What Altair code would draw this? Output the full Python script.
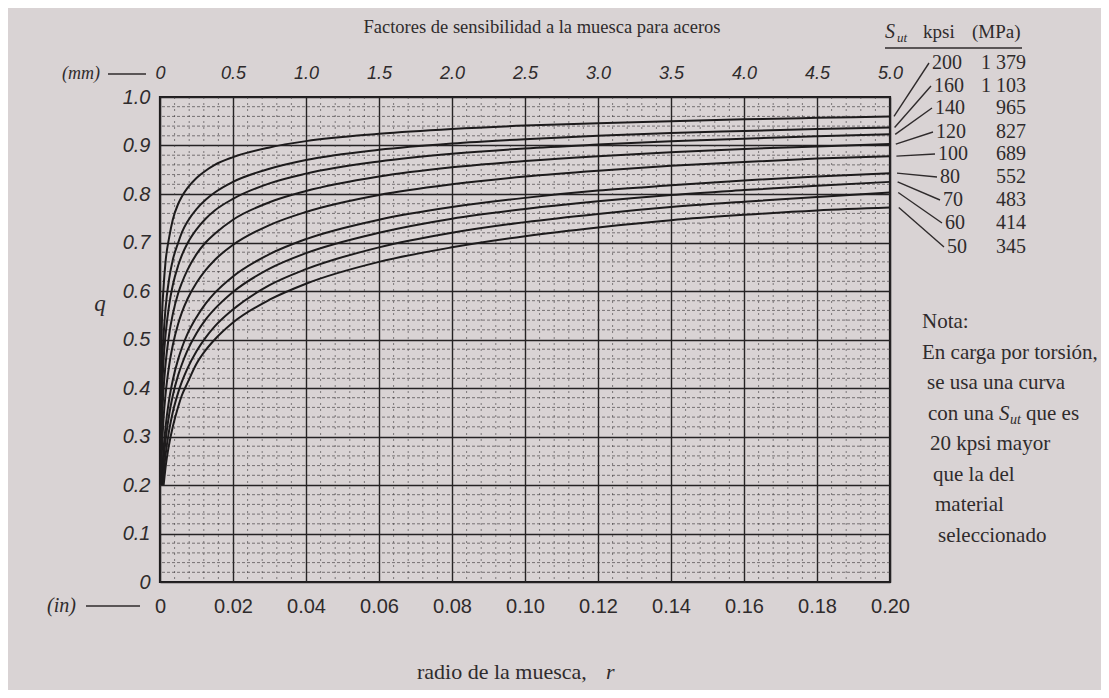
import altair as alt
import pandas as pd

# ---------------- data ----------------
sut_kpsi = [200, 160, 140, 120, 100, 80, 70, 60, 50]
sut_mpa = ["1 379", "1 103", "965", "827", "689", "552", "483", "414", "345"]

# notch radius (in) at which the curves were read
r_in = [0.0005, 0.001, 0.0015, 0.0025, 0.0035, 0.005, 0.006, 0.0075, 0.01, 0.0125,
        0.015, 0.02, 0.03, 0.04, 0.06, 0.08, 0.10, 0.12, 0.14, 0.16, 0.18, 0.20]
# first point of each curve (q = 0.20 near r = 0)
r_start = [0.00003, 0.00006, 0.00009, 0.00014, 0.00024, 0.00045, 0.0006, 0.0008, 0.0010]
q_start = 0.20

q_200 = [0.53, 0.61, 0.659, 0.71, 0.747, 0.78, 0.795, 0.812, 0.833, 0.848, 0.86, 0.876, 0.896, 0.909, 0.924, 0.934, 0.941, 0.946, 0.950, 0.954, 0.957, 0.960]
q_160 = [0.43, 0.51, 0.563, 0.625, 0.664, 0.70, 0.721, 0.743, 0.769, 0.788, 0.803, 0.825, 0.852, 0.870, 0.891, 0.904, 0.913, 0.920, 0.926, 0.930, 0.934, 0.937]
q_140 = [0.37, 0.46, 0.508, 0.571, 0.612, 0.653, 0.674, 0.698, 0.727, 0.749, 0.766, 0.79, 0.822, 0.842, 0.867, 0.883, 0.894, 0.902, 0.909, 0.914, 0.919, 0.923]
q_120 = [0.32, 0.40, 0.447, 0.51, 0.552, 0.596, 0.617, 0.643, 0.676, 0.70, 0.718, 0.747, 0.783, 0.806, 0.836, 0.855, 0.868, 0.878, 0.886, 0.893, 0.898, 0.903]
q_100 = [0.265, 0.34, 0.385, 0.446, 0.488, 0.533, 0.556, 0.583, 0.617, 0.643, 0.664, 0.695, 0.736, 0.763, 0.798, 0.820, 0.836, 0.848, 0.858, 0.866, 0.873, 0.878]
q_80 = [None, 0.276, 0.318, 0.376, 0.416, 0.46, 0.483, 0.511, 0.546, 0.574, 0.596, 0.63, 0.676, 0.707, 0.747, 0.773, 0.792, 0.807, 0.818, 0.828, 0.836, 0.843]
q_70 = [None, 0.25, 0.29, 0.345, 0.384, 0.427, 0.449, 0.477, 0.513, 0.541, 0.563, 0.598, 0.646, 0.678, 0.72, 0.749, 0.769, 0.785, 0.798, 0.808, 0.817, 0.825]
q_60 = [None, 0.223, 0.26, 0.3125, 0.35, 0.391, 0.413, 0.44, 0.476, 0.504, 0.527, 0.562, 0.612, 0.645, 0.69, 0.72, 0.742, 0.759, 0.773, 0.784, 0.794, 0.803]
q_50 = [None, None, 0.235, 0.284, 0.32, 0.362, 0.385, 0.41, 0.45, 0.478, 0.50, 0.535, 0.582, 0.615, 0.66, 0.69, 0.713, 0.731, 0.746, 0.757, 0.766, 0.772]
q_all = [q_200, q_160, q_140, q_120, q_100, q_80, q_70, q_60, q_50]

x_ticks = [0, 0.02, 0.04, 0.06, 0.08, 0.10, 0.12, 0.14, 0.16, 0.18, 0.20]
y_ticks = [0, 0.1, 0.2, 0.3, 0.4, 0.5, 0.6, 0.7, 0.8, 0.9, 1.0]
mm_ticks = [0, 0.5, 1.0, 1.5, 2.0, 2.5, 3.0, 3.5, 4.0, 4.5, 5.0]
minor_q = [k / 50 for k in range(1, 50) if k % 5 != 0]
minor_r = [k * 0.004 for k in range(1, 50) if k % 5 != 0]

# ---------------- layout / style ----------------
W, H = 730, 485
PL, PT = 152, 89
X0, Y0 = 8 + PL, 8 + PT
PAPER = "#d9d3d4"
INK = "#1d1b1c"
TC = "#2f2b2c"
SERIF = "Liberation Serif"
SANS = "Liberation Sans"

xs = alt.Scale(domain=[0, 0.2], nice=False, zero=False)
ys = alt.Scale(domain=[0, 1.0], nice=False, zero=False)

y_axis = alt.Axis(
    values=y_ticks, labelExpr="datum.value == 0 ? '0' : format(datum.value, '.1f')",
    grid=True, gridColor="#262324", gridWidth=1.4, domain=False, ticks=False,
    labelPadding=10, labelFont=SANS, labelFontStyle="italic", labelFontSize=20,
    labelColor=TC, labelOverlap=False, labelBound=False, labelFlush=False, title=None)

rows = []
for s, rs, qs in zip(sut_kpsi, r_start, q_all):
    rows.append({"Sut": s, "r": rs, "q": q_start})
    for r, q in zip(r_in, qs):
        if q is not None:
            rows.append({"Sut": s, "r": r, "q": q})
curves_df = pd.DataFrame(rows)

curves = alt.Chart(curves_df).mark_line(
    color=INK, strokeWidth=2, interpolate="monotone"
).encode(
    x=alt.X("r:Q", scale=xs, axis=alt.Axis(
        values=x_ticks, labelExpr="datum.value == 0 ? '0' : format(datum.value, '.2f')",
        grid=True, gridColor="#262324", gridWidth=1.4, domain=False, ticks=False,
        labelPadding=14, labelFont=SANS, labelFontSize=20, labelColor=TC,
        labelOverlap=False, labelBound=False, labelFlush=False, title=None)),
    y=alt.Y("q:Q", scale=ys, axis=y_axis),
    detail="Sut:N",
    order="r:Q",
)

minor_h = alt.Chart(pd.DataFrame({"q": minor_q})).mark_rule(
    color="#3d393a", strokeWidth=0.8, strokeDash=[3, 2], opacity=0.8
).encode(y=alt.Y("q:Q", scale=ys, axis=y_axis))

minor_v = alt.Chart(pd.DataFrame({"r": minor_r})).mark_rule(
    color="#3d393a", strokeWidth=0.8, strokeDash=[2, 4], opacity=0.75
).encode(x=alt.X("r:Q", scale=xs, axis=None))

mm_axis = alt.Chart(pd.DataFrame({"mm": [0, 5.0]})).mark_point(opacity=0).encode(
    x=alt.X("mm:Q", scale=alt.Scale(domain=[0, 5.0], nice=False, zero=False), axis=alt.Axis(
        orient="top", values=mm_ticks,
        labelExpr="datum.value == 0 ? '0' : format(datum.value, '.1f')",
        grid=False, domain=False, ticks=False, labelPadding=15, labelFont=SANS,
        labelFontStyle="italic", labelFontSize=18, labelColor=TC,
        labelOverlap=False, labelBound=False, labelFlush=False, title=None)),
    y=alt.value(0),
)

one = pd.DataFrame({"k": [0]})


def txt(s, x, y, size=20, font=SERIF, style="normal", align="left"):
    return alt.Chart(one).mark_text(
        font=font, fontSize=size, fontStyle=style, align=align, baseline="middle", color=TC
    ).encode(x=alt.value(x - X0), y=alt.value(y - Y0), text=alt.value(s))


def seg(x1, y1, x2, y2, w=1.4):
    return alt.Chart(one).mark_rule(color=TC, strokeWidth=w).encode(
        x=alt.value(x1 - X0), x2=alt.value(x2 - X0), y=alt.value(y1 - Y0), y2=alt.value(y2 - Y0))


layers = [minor_h, minor_v, curves, mm_axis]

# title and axis captions
layers += [
    txt("Factores de sensibilidad a la muesca para aceros", 542, 27, size=18.5, align="center"),
    txt("(mm)", 100, 74, size=18, style="italic", align="right"),
    seg(108, 74, 146, 74),
    txt("(in)", 76, 606, size=20, style="italic", align="right"),
    seg(86, 606, 140, 606),
    txt("q", 100, 304, size=23, style="italic", align="center"),
    txt("radio de la muesca,", 417, 672, size=22),
    txt("r", 606, 672, size=22, style="italic"),
]

# legend of Sut
layers += [
    txt("S", 885, 32, size=20, style="italic"),
    txt("ut", 897, 38, size=13, style="italic"),
    txt("kpsi", 923, 32, size=19),
    txt("(MPa)", 972, 32, size=19),
    seg(885, 48, 1022, 48, w=1.5),
]
lab_y = [63, 86, 108, 132, 154, 177, 200, 223, 247]
lab_x = [929, 931, 932, 933, 935, 937, 940, 942, 944]
for i, (k, m) in enumerate(zip(sut_kpsi, sut_mpa)):
    q_end = q_all[i][-1]
    leader = alt.Chart(pd.DataFrame({"q": [q_end]})).mark_rule(
        color=TC, strokeWidth=1.4).encode(
        x=alt.value(734 + 0.6 * i), x2=alt.value(lab_x[i] - X0),
        y=alt.Y("q:Q", scale=ys, axis=y_axis), y2=alt.value(lab_y[i] - Y0))
    layers += [
        leader,
        txt(str(k), lab_x[i] + 3, lab_y[i], size=20),
        txt(m, 1026, lab_y[i], size=20, align="right"),
    ]

# note
note_y = [322 + 30.5 * i for i in range(8)]
layers += [
    txt("Nota:", 922, note_y[0], size=21),
    txt("En carga por torsión,", 922, note_y[1], size=21),
    txt("se usa una curva", 927, note_y[2], size=21),
    txt("con una", 928, note_y[3], size=21),
    txt("S", 999, note_y[3], size=21, style="italic"),
    txt("ut", 1010, note_y[3] + 6, size=14, style="italic"),
    txt("que es", 1026, note_y[3], size=21),
    txt("20 kpsi mayor", 930, note_y[4], size=21),
    txt("que la del", 933, note_y[5], size=21),
    txt("material", 935, note_y[6], size=21),
    txt("seleccionado", 938, note_y[7], size=21),
]

chart = alt.layer(*layers).resolve_scale(x="independent").properties(
    width=W, height=H,
    autosize=alt.AutoSizeParams(type="none"),
    padding={"left": PL, "top": PT, "right": 1109 - 16 - PL - W, "bottom": 698 - 16 - PT - H},
    background=PAPER,
).configure_view(stroke="#1d1b1c", strokeWidth=2.2, fill=PAPER)

chart.save("out.html", embed_options={"renderer": "svg", "actions": False})
